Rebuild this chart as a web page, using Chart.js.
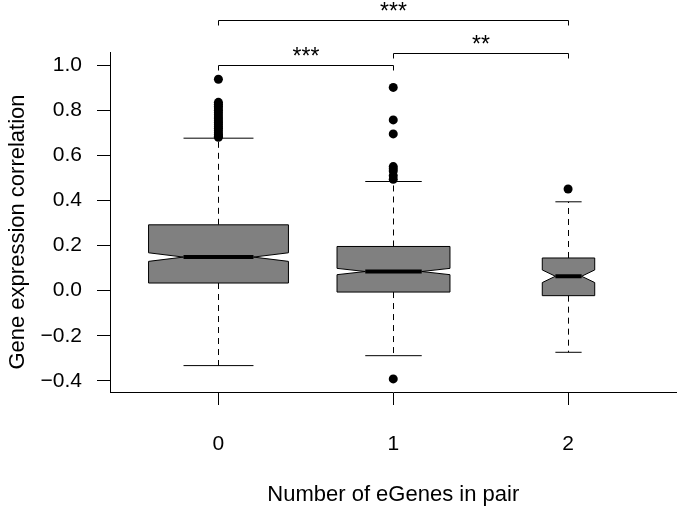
<!DOCTYPE html>
<html>
<head>
<meta charset="utf-8">
<script src="https://cdn.jsdelivr.net/npm/chart.js@4.4.1/dist/chart.umd.min.js"></script>
<style>
  html, body { margin: 0; padding: 0; background: #fff; }
  #grafico { display: block; }
</style>
</head>
<body>
<canvas id="grafico" width="681" height="508"></canvas>
<script>
// --- Data ---
const groups = ['0', '1', '2'];
const lowerWhisker = [-0.332, -0.288, -0.273];
const q1 = [0.034, -0.006, -0.022];
const median = [0.149, 0.085, 0.064];
const q3 = [0.292, 0.196, 0.145];
const upperWhisker = [0.676, 0.484, 0.394];
const notchHalf = [0.019, 0.014, 0.028];
const boxWidths = [0.8, 0.646, 0.3]; // varwidth boxes (x units)

const outliers0 = [0.937, 0.835, 0.826, 0.818, 0.81, 0.80, 0.79, 0.78, 0.77, 0.762,
                   0.753, 0.745, 0.737, 0.728, 0.72, 0.71, 0.70, 0.692, 0.685, 0.68];
const outliers1 = [0.901, 0.757, 0.695, 0.55, 0.54, 0.53, 0.51, 0.494, -0.391];
const outliers2 = [0.451];

const yTicks = [-0.4, -0.2, 0.0, 0.2, 0.4, 0.6, 0.8, 1.0];
const yTitle = 'Gene expression correlation';

// significance brackets
const bracketPairs = [[0, 1], [1, 2], [0, 2]];
const bracketY = [1.0, 1.052, 1.199];
const bracketLabels = ['***', '**', '***'];

const FONT = '"Liberation Sans", Arial, Helvetica, sans-serif';

// --- Notched boxes, drawn through the chart scales ---
const boxPlugin = {
    id: 'notchedBoxes',
    beforeDatasetsDraw(chart) {
        const ctx = chart.ctx;
        const xs = chart.scales.x;
        const ys = chart.scales.y;
        const y = v => ys.getPixelForValue(v);

        groups.forEach((g, i) => {
            const cx = Math.round(xs.getPixelForValue(i)) + 0.5;
            const hw = xs.getPixelForValue(i + boxWidths[i] / 2) - xs.getPixelForValue(i);

            ctx.save();
            ctx.strokeStyle = '#000';
            ctx.lineWidth = 1;

            // whiskers (dashed)
            ctx.setLineDash([6, 5]);
            ctx.beginPath();
            ctx.moveTo(cx, y(q3[i])); ctx.lineTo(cx, y(upperWhisker[i]));
            ctx.moveTo(cx, y(q1[i])); ctx.lineTo(cx, y(lowerWhisker[i]));
            ctx.stroke();
            ctx.setLineDash([]);

            // staples
            ctx.beginPath();
            ctx.moveTo(cx - hw / 2, y(upperWhisker[i])); ctx.lineTo(cx + hw / 2, y(upperWhisker[i]));
            ctx.moveTo(cx - hw / 2, y(lowerWhisker[i])); ctx.lineTo(cx + hw / 2, y(lowerWhisker[i]));
            ctx.stroke();

            // box with notch
            const lo = median[i] - notchHalf[i];
            const hi = median[i] + notchHalf[i];
            ctx.beginPath();
            ctx.moveTo(cx - hw, y(q1[i]));
            ctx.lineTo(cx + hw, y(q1[i]));
            ctx.lineTo(cx + hw, y(lo));
            ctx.lineTo(cx + hw / 2, y(median[i]));
            ctx.lineTo(cx + hw, y(hi));
            ctx.lineTo(cx + hw, y(q3[i]));
            ctx.lineTo(cx - hw, y(q3[i]));
            ctx.lineTo(cx - hw, y(hi));
            ctx.lineTo(cx - hw / 2, y(median[i]));
            ctx.lineTo(cx - hw, y(lo));
            ctx.closePath();
            ctx.fillStyle = '#808080';
            ctx.fill();
            ctx.stroke();

            // median
            ctx.lineWidth = 4;
            ctx.beginPath();
            ctx.moveTo(cx - hw / 2, y(median[i]));
            ctx.lineTo(cx + hw / 2, y(median[i]));
            ctx.stroke();
            ctx.restore();
        });
    }
};

// --- Brackets with stars above the plot, and the y title ---
const annotPlugin = {
    id: 'annotations',
    afterDraw(chart) {
        const ctx = chart.ctx;
        const xs = chart.scales.x;
        const ys = chart.scales.y;
        ctx.save();
        ctx.strokeStyle = '#000';
        ctx.fillStyle = '#000';
        ctx.lineWidth = 1;
        ctx.font = '23px ' + FONT;
        ctx.textAlign = 'center';
        ctx.textBaseline = 'alphabetic';
        bracketPairs.forEach(([a, b], k) => {
            const x1 = Math.round(xs.getPixelForValue(a)) + 0.5;
            const x2 = Math.round(xs.getPixelForValue(b)) + 0.5;
            const yy = Math.round(ys.getPixelForValue(bracketY[k])) + 0.5;
            ctx.beginPath();
            ctx.moveTo(x1, yy + 5);
            ctx.lineTo(x1, yy);
            ctx.lineTo(x2, yy);
            ctx.lineTo(x2, yy + 5);
            ctx.stroke();
            ctx.fillText(bracketLabels[k], (x1 + x2) / 2, yy - 2);
        });

        // y axis title, centred a little below the middle as in the figure
        ctx.font = '22px ' + FONT;
        ctx.textBaseline = 'middle';
        ctx.translate(18, 232);
        ctx.rotate(-Math.PI / 2);
        ctx.fillText(yTitle, 0, 0);
        ctx.restore();
    }
};

const toPoints = (arr, gx) => arr.map(v => ({ x: gx, y: v }));

new Chart(document.getElementById('grafico'), {
    type: 'scatter',
    data: {
        datasets: [outliers0, outliers1, outliers2].map((arr, i) => ({
            data: toPoints(arr, i),
            pointRadius: 4.5,
            pointBackgroundColor: '#000',
            pointBorderWidth: 0,
            pointHoverRadius: 4.5
        }))
    },
    options: {
        responsive: false,
        animation: false,
        devicePixelRatio: 1,
        events: [],
        layout: { padding: { top: 52, right: 4, left: 0, bottom: 0 } },
        plugins: { legend: { display: false }, tooltip: { enabled: false } },
        scales: {
            x: {
                type: 'linear',
                min: -0.62,
                max: 2.62,
                afterBuildTicks: s => { s.ticks = groups.map((g, i) => ({ value: i })); },
                afterFit: s => { s.height = 116; },
                ticks: {
                    callback: v => groups[v],
                    color: '#000',
                    font: { family: FONT, size: 21 },
                    padding: 27,
                    maxRotation: 0
                },
                grid: { drawOnChartArea: false, tickLength: 13, tickColor: '#000', tickWidth: 1 },
                border: { color: '#000', width: 1 },
                title: {
                    display: true,
                    text: 'Number of eGenes in pair',
                    color: '#000',
                    font: { family: FONT, size: 22 },
                    padding: { top: 0, bottom: 0 }
                }
            },
            y: {
                min: -0.449,
                max: 1.058,
                afterBuildTicks: s => { s.ticks = yTicks.map(v => ({ value: v })); },
                afterFit: s => { s.width = 110; },
                ticks: {
                    callback: v => (v < 0 ? '\u2212' : '') + Math.abs(v).toFixed(1),
                    color: '#000',
                    font: { family: FONT, size: 21 },
                    padding: 15
                },
                grid: { drawOnChartArea: false, tickLength: 13, tickColor: '#000', tickWidth: 1 },
                border: { color: '#000', width: 1 }
            }
        }
    },
    plugins: [boxPlugin, annotPlugin]
});
</script>
</body>
</html>
